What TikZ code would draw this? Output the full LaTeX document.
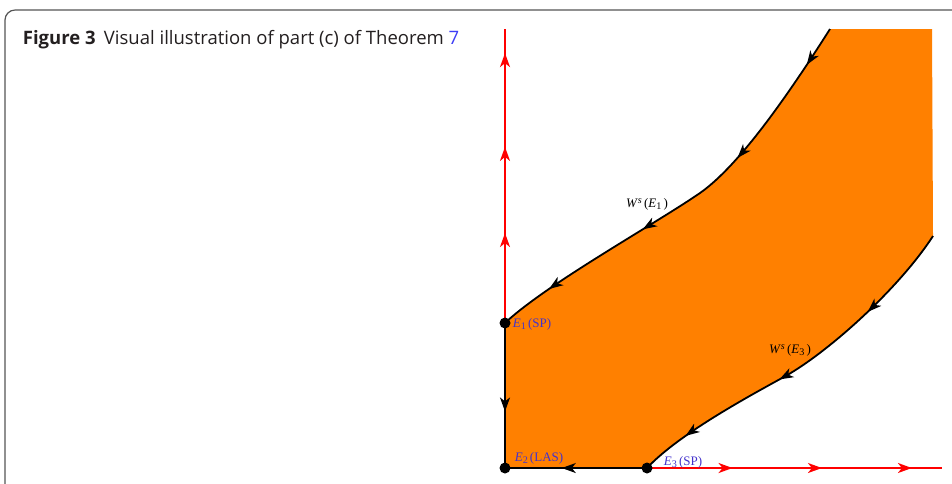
\documentclass[tikz,border=0pt]{standalone}
\usepackage{fontspec}
\setmainfont{Liberation Serif}
\newfontfamily\capfont{Open Sans}
\usepackage{xcolor}
\usepackage{tikz}
\usetikzlibrary{arrows.meta, decorations.markings}
\definecolor{region}{HTML}{FF8000}
\definecolor{eqblue}{HTML}{4433CC}
\definecolor{linkblue}{HTML}{3D3DF5}
\definecolor{capgray}{HTML}{231F20}
\definecolor{framegray}{HTML}{555555}
\newcommand{\lowidx}[1]{\raisebox{-0.35ex}{\scalebox{0.78}{#1}}}
\newcommand{\highidx}[1]{\raisebox{0.55ex}{\scalebox{0.78}{\itshape #1}}}
\tikzset{
    flowtip/.tip={Stealth[length=5.6pt, width=4pt, inset=1.6pt]},
    arr/.style={postaction={decoration={markings,
        mark=at position #1 with {\arrow{flowtip}}}, decorate}},
    dot/.style={circle, fill=black, minimum size=4.4pt, inner sep=0pt},
    eqlabel/.style={text=eqblue, font=\fontsize{5.2}{6}\selectfont},
    wlabel/.style={font=\fontsize{5.2}{6}\selectfont},
}

\begin{document}
\begin{tikzpicture}[x=0.4pt, y=-0.4pt, line width=0.72pt]
    \useasboundingbox (0,0) rectangle (952,483);
    \clip (0,0) rectangle (952,483);
    % frame and caption
    \draw[framegray, line width=0.48pt, rounded corners=4pt] (5,520) |- (990,10);
    \node[anchor=base west, inner sep=0pt, text=capgray,
        font=\capfont\fontsize{7.4}{8.8}\selectfont] (caption) at (22,44)
        {\textbf{Figure 3}\hspace{0.45em}Visual illustration of part (c) of Theorem \textcolor{linkblue}{7}};
    % points
    \coordinate (ytop) at (505,29);
    \coordinate (xend) at (942,468);
    \coordinate (w1top) at (830,29);
    \coordinate (w1mid) at (700,193);
    \coordinate (w3top) at (933,236);
    \coordinate (w3mid) at (782,378);
    \coordinate (e1) at (505,323);
    \coordinate (e2) at (505,468);
    \coordinate (e3) at (647,468);
    % invariant region
    \fill[region] (w1top) .. controls (790,92) and (740,165) .. (w1mid)
        .. controls (655,224) and (545,285) .. (e1)
        -- (e2) -- (e3)
        .. controls (677,436) and (740,401) .. (w3mid)
        .. controls (825,355) and (898,290) .. (w3top)
        -- (932,29) -- cycle;
    % unstable directions
    \draw[red, arr=0.306, arr=0.599, arr=0.918] (e1) -- (ytop);
    \draw[red, arr=0.29, arr=0.593, arr=0.898] (e3) -- (xend);
    % stable manifolds
    \draw[arr=0.096, arr=0.357, arr=0.625, arr=0.875]
        (w1top) .. controls (790,92) and (740,165) .. (w1mid)
        .. controls (655,224) and (545,285) .. (e1);
    \draw[arr=0.27, arr=0.57, arr=0.865]
        (w3top) .. controls (898,290) and (825,355) .. (w3mid)
        .. controls (740,401) and (677,436) .. (e3);
    \draw[arr=0.61] (e1) -- (e2);
    \draw[arr=0.6] (e3) -- (e2);
    % equilibria
    \node[dot] (E1) at (e1) {};
    \node[dot] (E2) at (e2) {};
    \node[dot] (E3) at (e3) {};
    \node[eqlabel] (E1lab) at (532,324) {\textit{E}\lowidx{1}\,(SP)};
    \node[eqlabel] (E2lab) at (539,458) {\textit{E}\lowidx{2}\,(LAS)};
    \node[eqlabel] (E3lab) at (683,462) {\textit{E}\lowidx{3}\,(SP)};
    \node[wlabel] (W1lab) at (647,204) {\textit{W}\highidx{s}\,(\textit{E}\lowidx{1}\,)};
    \node[wlabel] (W3lab) at (790,350) {\textit{W}\highidx{s}\,(\textit{E}\lowidx{3}\,)};
\end{tikzpicture}
\end{document}
